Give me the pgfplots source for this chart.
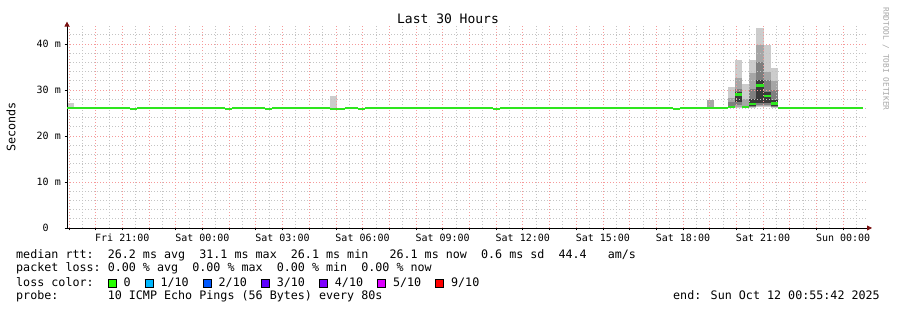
\documentclass[border=0pt]{standalone}
\usepackage{fontspec}
\setmainfont{DejaVu Sans Mono}
\setmonofont{DejaVu Sans Mono}
\usepackage{pgfplots}
\pgfplotsset{compat=1.18}
\usetikzlibrary{arrows.meta}
\definecolor{medgreen}{HTML}{2EE61E}
\definecolor{mred}{HTML}{F59A9A}
\definecolor{mgrey}{HTML}{C4C4C4}
\definecolor{arr}{HTML}{7A1010}
\definecolor{sA}{HTML}{CCCCCC}
\definecolor{sB}{HTML}{A6A6A6}
\definecolor{sC}{HTML}{7F7F7F}
\definecolor{sD}{HTML}{3A3A3A}
\definecolor{c0}{HTML}{26FF00}
\definecolor{c1}{HTML}{00B8FF}
\definecolor{c2}{HTML}{0059FF}
\definecolor{c3}{HTML}{5E00FF}
\definecolor{c4}{HTML}{7E00FF}
\definecolor{c5}{HTML}{DD00FF}
\definecolor{c9}{HTML}{FF0000}
\newcommand{\sm}[5]{\addplot[on layer=axis background, fill=#5, draw=none] coordinates {(#1,#3) (#2,#3) (#2,#4) (#1,#4)};}
\newcommand{\lbox}[1]{{\setlength{\fboxsep}{0pt}\setlength{\fboxrule}{0.8pt}\fcolorbox{black}{#1}{\hbox to 7.2pt{\vrule width 0pt height 7.2pt\hfil}}}}
\newcommand{\lf}{\fontsize{11.7}{14}\selectfont}
\begin{document}
\begin{tikzpicture}[x=1pt,y=1pt]
\path (0,0) rectangle (897,310);
\begin{axis}[
  set layers,
  at={(67pt,82pt)}, anchor=south west, scale only axis,
  width=801pt, height=202.4pt,
  xmin=18.93, xmax=48.93, ymin=0, ymax=44,
  enlargelimits=false,
  axis x line*=bottom, axis y line*=left,
  x axis line style={black, line width=0.8pt, -{Triangle[length=5pt,width=5pt,color=arr]}, shorten >=-4pt},
  y axis line style={black, line width=0.8pt, -{Triangle[length=5pt,width=5pt,color=arr]}, shorten >=-4pt},
  xtick={19,20,...,48},
  xticklabels={{},{},Fri 21:00,{},{},Sat 00:00,{},{},Sat 03:00,{},{},Sat 06:00,{},{},Sat 09:00,{},{},Sat 12:00,{},{},Sat 15:00,{},{},Sat 18:00,{},{},Sat 21:00,{},{},Sun 00:00},
  minor xtick={19.5,20.5,...,48.5},
  ytick={0,10,20,30,40},
  yticklabels={0\hphantom{xx},10 m,20 m,30 m,40 m},
  minor ytick={2,4,6,8,12,14,16,18,22,24,26,28,32,34,36,38,42},
  grid=both,
  major grid style={mred, dash pattern=on 1pt off 2pt, line width=0.7pt},
  minor grid style={mgrey, dash pattern=on 1pt off 2pt, line width=0.7pt},
  tick align=outside,
  major tick length=2.5pt, minor tick length=0pt,
  tick style={black, line width=0.6pt},
  xticklabel style={font=\fontsize{10}{12}\selectfont, inner sep=0pt, yshift=-3.5pt},
  yticklabel style={font=\fontsize{10}{12}\selectfont, inner sep=0pt, xshift=-3.5pt},
]
% smoke
\sm{18.93}{19.19}{26.1}{27.2}{sA}
\sm{28.78}{29.04}{26.1}{28.7}{sA}
\sm{42.90}{43.17}{26.1}{27.8}{sB}
% A
\sm{43.69}{43.95}{26.0}{30.6}{sA}
\sm{43.69}{43.95}{26.1}{28.3}{sB}
\sm{43.69}{43.95}{26.2}{27.4}{sC}
% B
\sm{43.95}{44.22}{26.0}{36.6}{sA}
\sm{43.95}{44.22}{26.3}{32.6}{sB}
\sm{43.95}{44.22}{26.8}{30.2}{sC}
\sm{43.95}{44.22}{27.4}{29.6}{sD}
% C
\sm{44.22}{44.49}{26.0}{31.2}{sA}
\sm{44.22}{44.49}{26.2}{28.0}{sB}
% D
\sm{44.49}{44.75}{26.0}{36.6}{sA}
\sm{44.49}{44.75}{26.2}{33.6}{sB}
\sm{44.49}{44.75}{26.4}{30.3}{sC}
\sm{44.49}{44.75}{26.6}{28.0}{sD}
% E
\sm{44.75}{45.02}{26.2}{43.5}{sA}
\sm{44.75}{45.02}{26.5}{39.8}{sB}
\sm{44.75}{45.02}{26.8}{36.0}{sC}
\sm{44.75}{45.02}{27.2}{32.1}{sD}
% F
\sm{45.02}{45.29}{26.2}{39.8}{sA}
\sm{45.02}{45.29}{26.5}{33.9}{sB}
\sm{45.02}{45.29}{26.8}{32.1}{sC}
\sm{45.02}{45.29}{27.2}{29.5}{sD}
% G
\sm{45.29}{45.55}{26.0}{34.7}{sA}
\sm{45.29}{45.55}{26.2}{31.9}{sB}
\sm{45.29}{45.55}{26.4}{29.9}{sC}
\sm{45.29}{45.55}{26.6}{27.8}{sD}
% median
\addplot[jump mark left, color=medgreen, line width=2.4pt] coordinates {
(18.93,26.1)
(21.29,25.85)(21.55,26.1)
(24.85,25.85)(25.11,26.1)
(26.35,25.85)(26.61,26.1)
(28.78,25.85)(29.34,26.1)
(29.83,25.85)(30.09,26.1)
(34.88,25.85)(35.15,26.1)
(41.63,25.85)(41.89,26.1)
(43.69,26.3)(43.95,29.0)(44.22,26.3)(44.49,26.9)(44.75,31.0)(45.02,28.7)(45.29,27.1)(45.55,26.1)
(48.74,26.1)
};
\end{axis}
\node[font=\fontsize{13}{15}\selectfont, anchor=base, inner sep=0pt] at (448,286.5) {Last 30 Hours};
\node[rotate=90, font=\lf, inner sep=0pt] at (11,183) {Seconds};
\node[rotate=-90, font=\fontsize{7.8}{9}\selectfont, text=black!35, inner sep=0pt] at (886,251) {RRDTOOL / TOBI OETIKER};
\node[anchor=base west, inner sep=0pt, font=\lf] at (16,51.3) {median rtt:~~26.2 ms avg~~31.1 ms max~~26.1 ms min~~~26.1 ms now~~0.6 ms sd~~44.4~~~am/s};
\node[anchor=base west, inner sep=0pt, font=\lf] at (16,38.3) {packet loss:~0.00 \% avg~~0.00 \% max~~0.00 \% min~~0.00 \% now};
\node[anchor=base west, inner sep=0pt, font=\lf] at (16,23.3) {loss color:~~\lbox{c0}~0~~\lbox{c1}~1/10~~\lbox{c2}~2/10~~\lbox{c3}~3/10~~\lbox{c4}~4/10~~\lbox{c5}~5/10~~\lbox{c9}~9/10};
\node[anchor=base west, inner sep=0pt, font=\lf] at (16,10.3) {probe:~~~~~~~10 ICMP Echo Pings (56 Bytes) every 80s};
\node[anchor=base east, inner sep=0pt, font=\lf] at (880,10.3) {end: Sun Oct 12 00:55:42 2025};
\end{tikzpicture}
\end{document}
